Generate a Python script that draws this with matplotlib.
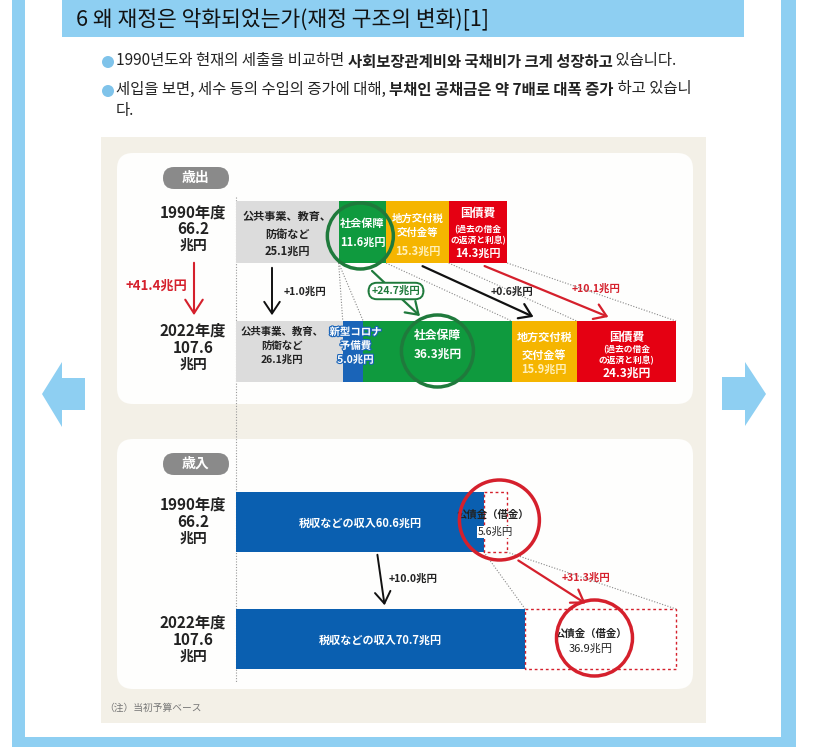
import numpy as np
import matplotlib
matplotlib.use('Agg')
import matplotlib.pyplot as plt
import matplotlib.patheffects as pe
from matplotlib.patches import FancyBboxPatch, Rectangle, Polygon, Ellipse, FancyArrowPatch

plt.rcParams['font.family'] = ['Noto Sans CJK JP', 'DejaVu Sans']
KR = ['Noto Sans CJK KR', 'DejaVu Sans']

# ---- data (兆円) ----
years = ['1990年度', '2022年度']
totals = [66.2, 107.6]
exp_names_1990 = ['公共事業、教育、\n防衛など', '社会保障', '地方交付税\n交付金等', '国債費']
exp_1990 = [25.1, 11.6, 15.3, 14.3]
exp_names_2022 = ['公共事業、教育、\n防衛など', '新型コロナ\n予備費', '社会保障', '地方交付税\n交付金等', '国債費']
exp_2022 = [26.1, 5.0, 36.3, 15.9, 24.3]
rev_names = ['税収などの収入', '公債金（借金）']
rev_1990 = [60.6, 5.6]
rev_2022 = [70.7, 36.9]
total_change = 41.4
exp_changes = [1.0, 24.7, 0.6, 10.1]
rev_changes = [10.0, 31.3]

# colours
GREY, GREEN, YELLOW, RED = '#dcdcdc', '#0f9a3e', '#f5b500', '#e50012'
CBLUE, BLUE = '#1a64b8', '#0a5fb0'
DGREEN, DRED = '#1f7a3c', '#d5202c'
SKY, BEIGE = '#8ecff2', '#f3f0e7'

fig = plt.figure(figsize=(8.34, 7.47), dpi=100)
bg = fig.add_axes([0, 0, 1, 1])
bg.set_xlim(0, 834)
bg.set_ylim(747, 0)
bg.axis('off')

# frame / title
for r in [(12, 0, 13, 747), (781, 0, 15, 747), (12, 737, 784, 10), (62, 0, 682, 37)]:
    bg.add_patch(Rectangle(r[:2], r[2], r[3], fc=SKY, ec='none'))
bg.text(76, 19, '6 왜 재정은 악화되었는가(재정 구조의 변화)[1]', fontsize=15.5,
        family=KR, fontweight='medium', va='center', color='#111')


def rich_line(x, y, parts, size=11.1):
    t = bg.text(x, y, parts[0][0], fontsize=size, fontweight=parts[0][1], family=KR,
                va='center', ha='left', color='#222')
    for s, w in parts[1:]:
        t = bg.annotate(s, xy=(1, 0), xycoords=t, va='bottom', ha='left', fontsize=size,
                        fontweight=w, family=KR, color='#222')


bg.add_patch(Ellipse((108, 62), 12, 12, fc='#7fc3ea', ec='none'))
bg.add_patch(Ellipse((108, 91), 12, 12, fc='#7fc3ea', ec='none'))
rich_line(116, 61, [('1990년도와 현재의 세출을 비교하면 ', 'normal'),
                    ('사회보장관계비와 국채비가 크게 성장하고', 'bold'),
                    (' 있습니다.', 'normal')])
rich_line(116, 89, [('세입을 보면, 세수 등의 수입의 증가에 대해, ', 'normal'),
                    ('부채인 공채금은 약 7배로 대폭 증가', 'bold'),
                    (' 하고 있습니', 'normal')])
bg.text(116, 110, '다.', fontsize=11.1, family=KR, va='center', color='#222')

# side arrows
bg.add_patch(Polygon([(42, 394), (62, 362), (62, 378), (85, 378), (85, 410), (62, 410), (62, 427)],
                     fc=SKY, ec='none'))
bg.add_patch(Polygon([(766, 394), (745, 362), (745, 377), (722, 377), (722, 410), (745, 410), (745, 426)],
                     fc=SKY, ec='none'))

# chart background and panels
bg.add_patch(Rectangle((101, 137), 605, 586, fc=BEIGE, ec='none'))
for y0, h in [(153, 251), (439, 250)]:
    bg.add_patch(FancyBboxPatch((117, y0), 576, h, boxstyle='round,pad=0,rounding_size=16',
                                fc='#fefefd', ec='none'))
for y0, s in [(167, '歳出'), (453, '歳入')]:
    bg.add_patch(FancyBboxPatch((163, y0), 66, 22, boxstyle='round,pad=0,rounding_size=11',
                                fc='#8a8a8a', ec='none'))
    bg.text(196, y0 + 11, s, color='white', fontsize=10, fontweight='bold', ha='center', va='center')
bg.text(104, 708, '（注）当初予算ベース', fontsize=7, color='#777', va='center')

# year labels
for ys, yr, tot in [((213, 229, 246), years[0], totals[0]), ((331, 348, 365), years[1], totals[1]),
                    ((505, 522, 539), years[0], totals[0]), ((623, 640, 657), years[1], totals[1])]:
    for yy, s in zip(ys, [yr, f'{tot}', '兆円']):
        bg.text(193, yy, s, fontsize=11 if s != '兆円' else 10, fontweight='bold',
                ha='center', va='center', color='#222')
bg.add_patch(FancyArrowPatch((194, 260), (194, 318), arrowstyle='->,head_length=0.7,head_width=0.45',
                             mutation_scale=14, color=DRED, lw=1.5))
bg.text(156, 286, f'+{total_change}兆円', color=DRED, fontsize=9.5, fontweight='bold', ha='center', va='center')

# ---- data axes: x in 兆円, y in pixels ----
X0, PX = 236, 4.09
ax = fig.add_axes([0, 0, 1, 1])
ax.set_xlim(-X0 / PX, (834 - X0) / PX)
ax.set_ylim(747, 0)
ax.axis('off')
ax.patch.set_alpha(0)

EXP_Y = [232, 351.5]
REV_Y = [522, 639]

ax.plot([0, 0], [197, 682], color='#999', lw=0.8, ls=(0, (1, 1.5)), zorder=1)


def lefts(vals):
    return np.concatenate([[0], np.cumsum(vals)[:-1]])


l90, l22 = lefts(exp_1990), lefts(exp_2022)
ax.barh(EXP_Y[0], exp_1990, left=l90, height=62, color=[GREY, GREEN, YELLOW, RED], zorder=2)
ax.barh(EXP_Y[1], exp_2022, left=l22, height=61, color=[GREY, CBLUE, GREEN, YELLOW, RED], zorder=2)

# dotted connectors between segment edges
c90, c22 = np.cumsum(exp_1990), np.cumsum(exp_2022)
for a, b in [(c90[0], c22[0]), (c90[0], c22[1]), (c90[1], c22[2]), (c90[2], c22[3]), (c90[3], c22[4])]:
    ax.plot([a, b], [EXP_Y[0] + 31, EXP_Y[1] - 30.5], color='#888', lw=0.8, ls=(0, (1, 1.5)), zorder=1)

fs = 8
kw = dict(ha='center', va='center', fontweight='bold', zorder=5)
# 1990 segments
m90 = l90 + np.array(exp_1990) / 2
ax.text(m90[0], 234, f'{exp_names_1990[0]}\n{exp_1990[0]}兆円', fontsize=fs, color='#222', linespacing=1.45, **kw)
ax.text(m90[1], 233, f'{exp_names_1990[1]}\n{exp_1990[1]}兆円', fontsize=fs, color='white', linespacing=1.5, **kw)
ax.text(m90[2], 226, exp_names_1990[2], fontsize=fs - 0.5, color='white', linespacing=1.5, **kw)
ax.text(m90[2], 251, f'{exp_1990[2]}兆円', fontsize=fs, color='#fff0b8', **kw)
ax.text(m90[3], 213, exp_names_1990[3], fontsize=fs + 0.5, color='white', **kw)
ax.text(m90[3], 235, '(過去の借金\nの返済と利息)', fontsize=6.3, color='white', linespacing=1.25, **kw)
ax.text(m90[3], 253, f'{exp_1990[3]}兆円', fontsize=fs, color='white', **kw)
# 2022 segments
m22 = l22 + np.array(exp_2022) / 2
ax.text(m22[0] - 1.8, 346, f'{exp_names_2022[0]}\n{exp_2022[0]}兆円', fontsize=7.5, color='#222', linespacing=1.5, **kw)
ax.text(m22[1] + 0.6, 346, f'{exp_names_2022[1]}\n{exp_2022[1]}兆円', fontsize=7.5, color='white', linespacing=1.45,
        path_effects=[pe.withStroke(linewidth=1.6, foreground=CBLUE)], **kw)
ax.text(m22[2], 345, f'{exp_names_2022[2]}\n{exp_2022[2]}兆円', fontsize=fs + 0.5, color='white', linespacing=1.5, **kw)
ax.text(m22[3], 346, exp_names_2022[3], fontsize=fs, color='white', linespacing=1.5, **kw)
ax.text(m22[3], 369, f'{exp_2022[3]}兆円', fontsize=fs, color='#fff0b8', **kw)
ax.text(m22[4], 337, exp_names_2022[4], fontsize=fs + 0.5, color='white', **kw)
ax.text(m22[4], 355, '(過去の借金\nの返済と利息)', fontsize=6.3, color='white', linespacing=1.25, **kw)
ax.text(m22[4], 373, f'{exp_2022[4]}兆円', fontsize=fs + 0.5, color='white', **kw)

# highlight circles (pixel radius converted to x units)
for x, y, r, c in [(m90[1] - 0.5, 236, 33, DGREEN), (m22[2], 351, 36, DGREEN)]:
    ax.add_patch(Ellipse((x, y), 2 * r / PX, 2 * r, fill=False, ec=c, lw=2.5, zorder=6))

# change arrows (pixel coords)
ah = '->,head_length=0.6,head_width=0.4'
bg.add_patch(FancyArrowPatch((272, 265), (272, 318), arrowstyle=ah, mutation_scale=14, color='#111', lw=1.4, zorder=8))
bg.text(305, 292, f'+{exp_changes[0]}兆円', fontsize=7.5, fontweight='bold', ha='center', va='center', color='#222')
bg.add_patch(FancyArrowPatch((370, 269), (422, 318), arrowstyle=ah, mutation_scale=14, color=DGREEN, lw=1.6, zorder=8))
bg.text(396, 291, f'+{exp_changes[1]}兆円', fontsize=7.5, fontweight='bold', ha='center', va='center', color=DGREEN,
        bbox=dict(boxstyle='round,pad=0.3,rounding_size=0.8', fc='white', ec=DGREEN, lw=1.4), zorder=9)
bg.add_patch(FancyArrowPatch((420, 265), (536, 318), arrowstyle=ah, mutation_scale=14, color='#111', lw=1.6, zorder=8))
bg.text(512, 292, f'+{exp_changes[2]}兆円', fontsize=7.5, fontweight='bold', ha='center', va='center', color='#222')
bg.add_patch(FancyArrowPatch((482, 265), (611, 318), arrowstyle=ah, mutation_scale=14, color=DRED, lw=1.6, zorder=8))
bg.text(596, 289, f'+{exp_changes[3]}兆円', fontsize=7.5, fontweight='bold', ha='center', va='center', color=DRED)

# ---- revenue ----
for y, vals in [(REV_Y[0], rev_1990), (REV_Y[1], rev_2022)]:
    ax.barh(y, vals[0], height=60, color=BLUE, zorder=2)
    ax.barh(y, vals[1], left=vals[0], height=60, color='white', ec=DRED, lw=1, ls=(0, (2, 2)), zorder=2)
    ax.text(vals[0] / 2, y + 1, f'{rev_names[0]}{vals[0]}兆円', fontsize=8, fontweight='bold', color='white',
            ha='center', va='center', zorder=5)

r_tot90, r_tot22 = sum(rev_1990), sum(rev_2022)
for a, b in [(rev_1990[0], rev_2022[0]), (r_tot90, r_tot22)]:
    ax.plot([a, b], [REV_Y[0] + 30, REV_Y[1] - 30], color='#888', lw=0.8, ls=(0, (1, 1.5)), zorder=1)

g90 = rev_1990[0] + rev_1990[1] / 2
g22 = rev_2022[0] + rev_2022[1] / 2
ax.text(g90 - 0.5, 515, rev_names[1], fontsize=7.5, fontweight='bold', color='#222', ha='center', va='center', zorder=5)
ax.text(g90, 532, f'{rev_1990[1]}兆円', fontsize=7.5, color='#222', ha='center', va='center', zorder=5,
        bbox=dict(boxstyle='square,pad=0.05', fc='white', ec='none'))
ax.text(g22 - 2.5, 634, rev_names[1], fontsize=7.5, fontweight='bold', color='#222', ha='center', va='center', zorder=5)
ax.text(g22 - 2.5, 649, f'{rev_2022[1]}兆円', fontsize=8, color='#222', ha='center', va='center', zorder=5)
for x, y, r in [(g90 + 1.0, 520, 40), (g22 - 1.5, 638, 38)]:
    ax.add_patch(Ellipse((x, y), 2 * r / PX, 2 * r, fill=False, ec=DRED, lw=2.5, zorder=6))

bg.add_patch(FancyArrowPatch((377, 552), (385, 608), arrowstyle=ah, mutation_scale=14, color='#111', lw=1.4, zorder=8))
bg.text(413, 579, f'+{rev_changes[0]}兆円', fontsize=7.5, fontweight='bold', ha='center', va='center', color='#222')
bg.add_patch(FancyArrowPatch((516, 559), (588, 605), arrowstyle=ah, mutation_scale=14, color=DRED, lw=1.6, zorder=8))
bg.text(586, 578, f'+{rev_changes[1]}兆円', fontsize=7.5, fontweight='bold', ha='center', va='center', color=DRED)

fig.savefig('out.png', dpi=100)
